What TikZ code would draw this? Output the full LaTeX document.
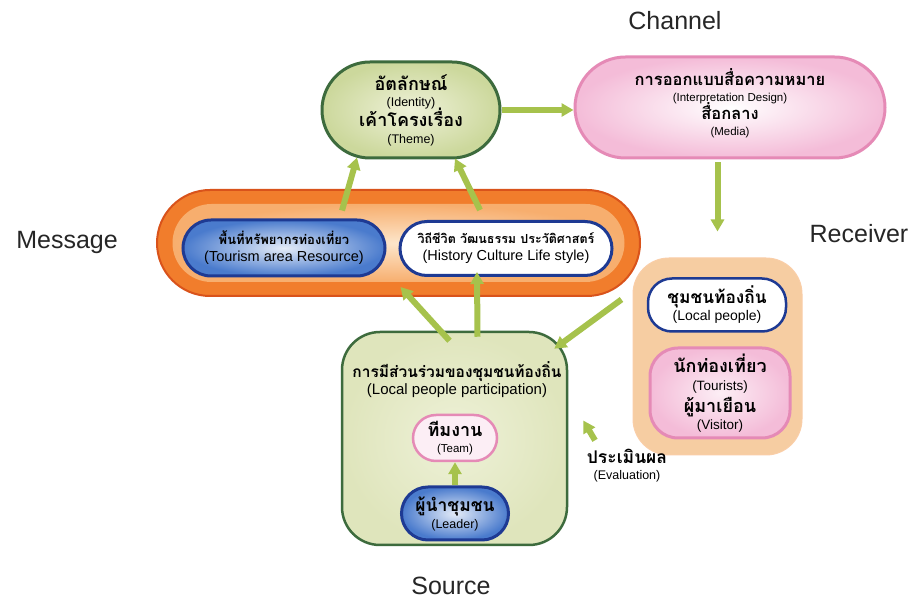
\documentclass[tikz,border=0pt]{standalone}
\usepackage{fontspec}
\setmainfont{Liberation Sans}
\newfontfamily\thaifont[Script=Thai]{Loma}
\usetikzlibrary{arrows.meta,shapes.misc,calc}

\definecolor{arrowgreen}{HTML}{A6C24C}
\definecolor{darkgreen}{HTML}{3D6B3D}
\definecolor{palegreen}{HTML}{EEF1D8}
\definecolor{midgreen}{HTML}{CCD89C}
\definecolor{srcgreen}{HTML}{DFE5BC}
\definecolor{pinkline}{HTML}{E58AB6}
\definecolor{pinkfill}{HTML}{F4BCD8}
\definecolor{palepink}{HTML}{FCEEF5}
\definecolor{orangeband}{HTML}{F17D2C}
\definecolor{orangeedge}{HTML}{D9531B}
\definecolor{peachlight}{HTML}{FDE6CB}
\definecolor{peachdark}{HTML}{F7AE6E}
\definecolor{rcvpeach}{HTML}{F6CDA2}
\definecolor{navy}{HTML}{1E3A93}
\definecolor{blueedge}{HTML}{4A7BCD}
\definecolor{bluelight}{HTML}{E4ECF8}

\newcommand\thailine[2]{{\thaifont\bfseries\fontsize{#1}{20}\selectfont #2}}
\newcommand\engline[2]{{\fontsize{#1}{20}\selectfont #2}}

\tikzset{
  pill/.style={rounded rectangle, inner sep=0pt, align=center,
    font=\fontsize{12}{20}\selectfont},
  boxshape/.style={rectangle, inner sep=0pt, align=center,
    font=\fontsize{12}{20}\selectfont},
  textonly/.style={inner sep=0pt, align=center,
    font=\fontsize{12}{20}\selectfont},
  garrow/.style={draw=arrowgreen, line width=6pt,
    -{Triangle[width=13pt,length=12pt]}},
  biglabel/.style={inner sep=0pt, font=\fontsize{25}{30}\selectfont, text=black!85},
}

\begin{document}
\lineskiplimit=-50pt\relax
\begin{tikzpicture}[x=1pt,y=-1pt]
  \fill[white] (0,0) rectangle (914,601);
  \useasboundingbox (0,0) rectangle (914,601);

  % side labels
  \node[biglabel] (lblchannel) at (675,21) {Channel};
  \node[biglabel] (lblmessage) at (67,242) {Message};
  \node[biglabel] (lblreceiver) at (859,234) {Receiver};
  \node[biglabel] (lblsource) at (451,586) {Source};

  % identity / theme
  \node[pill, draw=darkgreen, line width=3pt, inner color=palegreen, outer color=midgreen,
        minimum width=178pt, minimum height=96pt] (ident) at (411,110)
    {\thailine{18}{อัตลักษณ์}\\[-4pt]
     \engline{12.5}{(Identity)}\\[0pt]
     \thailine{18}{เค้าโครงเรื่อง}\\[-3pt]
     \engline{12.5}{(Theme)}};

  % channel: shape, then its text block
  \node[pill, draw=pinkline, line width=3pt, inner color=white, outer color=pinkfill,
        minimum width=310pt, minimum height=101pt] (chan) at (730,107.5) {};
  \node[textonly] (chantext) at (730,103)
    {\thailine{16.5}{การออกแบบสื่อความหมาย}\\[-4pt]
     \engline{11.5}{(Interpretation Design)}\\[-2pt]
     \thailine{16.5}{สื่อกลาง}\\[-4pt]
     \engline{11.5}{(Media)}};

  % message band
  \node[pill, draw=orangeedge, line width=2pt, fill=orangeband,
        minimum width=483pt, minimum height=106pt] (msg) at (398.5,243) {};
  \node[pill, inner color=peachlight, outer color=peachdark,
        minimum width=452pt, minimum height=78pt] (msgcore) at (398.5,243) {};
  \node[pill, draw=navy, line width=3pt, inner color=bluelight, outer color=blueedge,
        minimum width=202pt, minimum height=56pt] (msga) at (284,248)
    {\thailine{13}{พื้นที่ทรัพยากรท่องเที่ยว}\\[-3pt]
     \engline{14.5}{(Tourism area Resource)}};
  \node[pill, draw=navy, line width=3pt, fill=white,
        minimum width=212pt, minimum height=54pt] (msgb) at (506,248.5)
    {\thailine{12.5}{วิถีชีวิต วัฒนธรรม ประวัติศาสตร์}\\[-3pt]
     \engline{14.5}{(History Culture Life style)}};

  % receiver
  \node[boxshape, rounded corners=36pt, draw=peachdark!60, line width=1pt, fill=rcvpeach,
        minimum width=169pt, minimum height=197pt] (rcv) at (717.5,356.5) {};
  \node[boxshape, rounded corners=24pt, draw=navy, line width=2.5pt, fill=white,
        minimum width=138pt, minimum height=53pt] (loc) at (717,305)
    {\thailine{17.3}{ชุมชนท้องถิ่น}\\[-3pt]
     \engline{14}{(Local people)}};
  \node[boxshape, rounded corners=28pt, draw=pinkline, line width=3pt,
        inner color=palepink, outer color=pinkfill,
        minimum width=140pt, minimum height=90pt] (tour) at (720,393)
    {\thailine{18}{นักท่องเที่ยว}\\[-2pt]
     \engline{13.5}{(Tourists)}\\[2pt]
     \thailine{18}{ผู้มาเยือน}\\[-3pt]
     \engline{13.5}{(Visitor)}};

  % source
  \node[boxshape, rounded corners=38pt, draw=darkgreen, line width=2.5pt,
        inner color=palegreen, outer color=srcgreen,
        minimum width=225pt, minimum height=213pt] (src) at (454.5,438.5) {};
  \node[textonly] (srctitle) at (457,380)
    {\thailine{15.5}{การมีส่วนร่วมของชุมชนท้องถิ่น}\\[-3pt]
     \engline{15}{(Local people participation)}};
  \node[pill, draw=pinkline, line width=2.5pt, fill=palepink,
        minimum width=84pt, minimum height=46pt] (team) at (455,438)
    {\thailine{18}{ทีมงาน}\\[-4pt]
     \engline{11.5}{(Team)}};
  \node[pill, draw=navy, line width=3pt, inner color=bluelight, outer color=blueedge,
        minimum width=107pt, minimum height=53pt] (leader) at (455,513.5)
    {\thailine{17.5}{ผู้นำชุมชน}\\[-3pt]
     \engline{12.5}{(Leader)}};

  % evaluation
  \node[textonly] (eval) at (627,466)
    {\thailine{17.5}{ประเมินผล}\\[-4pt]
     \engline{12.5}{(Evaluation)}};

  % connectors
  \draw[garrow] (ident.east) -- (ident.east -| chan.west);
  \draw[garrow] ([yshift=-3pt]chan.south -| rcv.north) -- ([yshift=26pt]rcv.north);
  \draw[garrow] ($(msga.north)+(58,-8)$) -- ($(ident.south)+(-54,-2)$);
  \draw[garrow] ($(msgb.north)+(-26,-10)$) -- ($(ident.south)+(44,-1)$);
  \draw[garrow] ($(src.north)+(-5,10)$) -- ($(msg.south)+(2,-10)$);
  \draw[garrow] ($(src.north)+(23,6)$) -- ($(msgb.south)+(-29,-5)$);
  \draw[garrow] ($(rcv.north west)+(-11,42)$) -- ($(src.north east)+(-14,18)$);
  \draw[garrow] (leader.north) -- (team.south);
  \draw[garrow] ($(eval.north)+(-32,-9)$) -- ($(src.east)+(15,-18)$);
\end{tikzpicture}
\end{document}
